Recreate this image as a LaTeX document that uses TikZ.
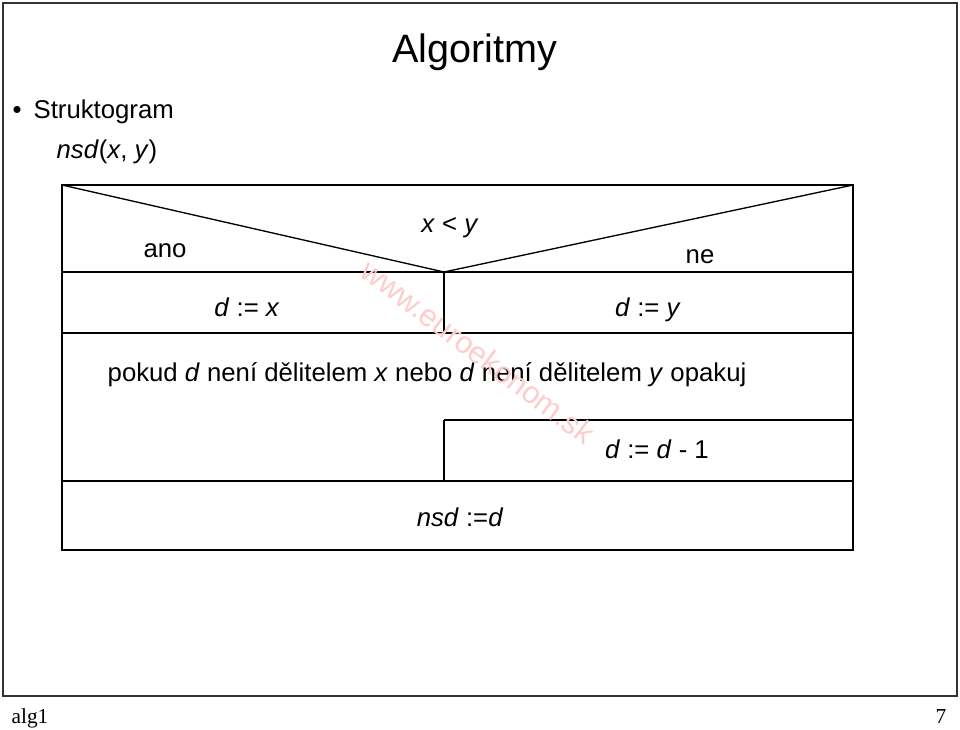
\documentclass[tikz,border=0pt]{standalone}
\usepackage{fontspec}
\setmainfont{Liberation Sans}
\newfontfamily\footfont{Liberation Serif}
\begin{document}
\begin{tikzpicture}[
    x=0.75pt, y=-0.75pt,
    line width=1pt,
    txt/.style={inner sep=0pt, anchor=base, font=\fontsize{19.3}{23}\selectfont},
    foot/.style={inner sep=0pt, anchor=base, font=\footfont\fontsize{16}{19}\selectfont}
]
    \useasboundingbox (0,0) rectangle (960,729);
    % Rahmen
    \draw[line width=1.4pt, draw=black!80] (3,3) rectangle (957,696);
    \node[inner sep=0pt, anchor=base, font=\fontsize{29.7}{34}\selectfont] (title) at (475,62) {Algoritmy};
    \node[txt, anchor=base west] (bullet) at (12,118) {\textbullet};
    \node[txt, anchor=base west] (struk) at (33,118) {Struktogram};
    \node[txt, anchor=base west] (nsdhead) at (56,158) {\textit{nsd}(\textit{x}, \textit{y})};

    % Struktogramm
    \coordinate (tl) at (62,185);
    \coordinate (tr) at (853,185);
    \coordinate (v) at (444,272);
    \coordinate (cl) at (62,272);
    \coordinate (cr) at (853,272);
    \coordinate (al) at (62,333);
    \coordinate (ar) at (853,333);
    \coordinate (am) at (444,333);
    \coordinate (bm) at (444,420);
    \coordinate (br) at (853,420);
    \coordinate (ll) at (62,481);
    \coordinate (lr) at (853,481);
    \coordinate (lm) at (444,481);
    \coordinate (el) at (62,550);
    \coordinate (er) at (853,550);

    \draw (tl) rectangle (er);
    \draw (tl) -- (v) -- (tr);
    \draw (cl) -- (cr);
    \draw (al) -- (ar);
    \draw (v) -- (am);
    \draw (bm) -- (br);
    \draw (bm) -- (lm);
    \draw (ll) -- (lr);

    % Texte
    \node[txt] (cond) at (450,232) {\textit{x} < \textit{y}};
    \node[txt] (ano) at (165,257) {ano};
    \node[txt] (ne) at (700,263) {ne};
    \node[txt] (dx) at (247,316) {\textit{d} := \textit{x}};
    \node[txt] (dy) at (648,316) {\textit{d} := \textit{y}};
    \node[txt] (loop) at (427,381) {pokud \textit{d} není dělitelem \textit{x} nebo \textit{d} není dělitelem \textit{y} opakuj};
    \node[txt] (dec) at (657,458) {\textit{d} := \textit{d} - 1};
    \node[txt] (res) at (460,526) {\textit{nsd} :=\textit{d}};

    % Wasserzeichen
    \node[inner sep=0pt, rotate=-37, text=red!20, font=\fontsize{23}{27}\selectfont] (wm) at (478,352) {www.euroekonom.sk};

    % Fusszeile
    \node[foot, anchor=base west] (alg) at (11,723) {alg1};
    \node[foot, anchor=base east] (page) at (947,723) {7};
\end{tikzpicture}
\end{document}
